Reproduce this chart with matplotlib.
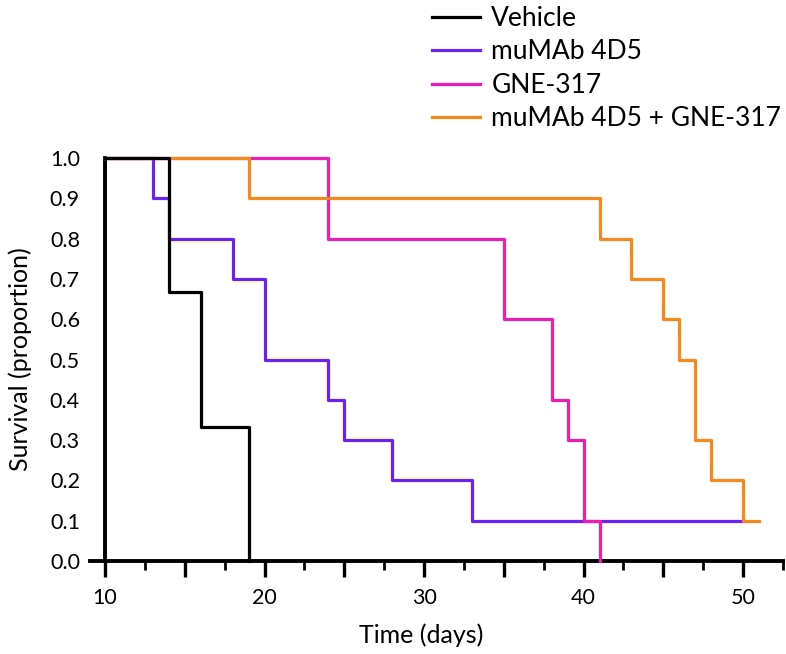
#Kaplan-Meier style survival plot
import numpy as np
import matplotlib
matplotlib.use("Agg")
import matplotlib.pyplot as plt
from matplotlib.ticker import MultipleLocator, FuncFormatter

#Data
groups = ["Vehicle", "muMAb 4D5", "GNE-317", "muMAb 4D5 + GNE-317"]

vehicle_days = [10, 14, 16, 19]
vehicle_surv = [1.0, 0.667, 0.333, 0.0]

mumab_days = [10, 13, 14, 18, 20, 24, 25, 28, 33, 50]
mumab_surv = [1.0, 0.9, 0.8, 0.7, 0.5, 0.4, 0.3, 0.2, 0.1, 0.1]

gne_days = [10, 24, 35, 38, 39, 40, 41]
gne_surv = [1.0, 0.8, 0.6, 0.4, 0.3, 0.1, 0.0]

combo_days = [10, 19, 41, 43, 45, 46, 47, 48, 50, 51]
combo_surv = [1.0, 0.9, 0.8, 0.7, 0.6, 0.5, 0.3, 0.2, 0.1, 0.1]

y_ticks = np.arange(0, 11) / 10

if __name__ == "__main__":
    plt.rcParams['font.family'] = ['Lato', 'DejaVu Sans']

    fig = plt.figure(figsize=(7.86, 6.54), dpi=100)
    ax = fig.add_axes([90 / 786, 1 - 561 / 654, 693 / 786, 403 / 654])

    lw = 2.3
    #zorder picked so black sits on top, purple at the bottom
    ax.step(vehicle_days, vehicle_surv, where='post', color='black', lw=lw, zorder=6, clip_on=False, label=groups[0])
    ax.step(mumab_days, mumab_surv, where='post', color='#6a22ec', lw=lw, zorder=3, clip_on=False, label=groups[1])
    ax.step(gne_days, gne_surv, where='post', color='#ec1cb6', lw=lw, zorder=4, clip_on=False, label=groups[2])
    ax.step(combo_days, combo_surv, where='post', color='#f28a1e', lw=lw, zorder=5, clip_on=False, label=groups[3])

    ax.set_xlim(9.06, 52.5)
    ax.set_ylim(0, 1.0)

    #Axis lines
    for side in ['top', 'right']:
        ax.spines[side].set_visible(False)
    ax.spines['left'].set_position(('data', 10))
    ax.spines['left'].set_linewidth(2.8)
    ax.spines['bottom'].set_linewidth(2.8)

    #X ticks: long every 5, short in between, labels every 10
    ax.xaxis.set_major_locator(MultipleLocator(5))
    ax.xaxis.set_minor_locator(MultipleLocator(2.5))
    ax.xaxis.set_major_formatter(FuncFormatter(lambda v, p: "%d" % v if v % 10 == 0 else ""))
    ax.tick_params(axis='x', which='major', length=11.5, width=2.4, labelsize=15.5, pad=8)
    ax.tick_params(axis='x', which='minor', length=6.5, width=2.0)

    #Y ticks: labels only, no marks
    ax.set_yticks(y_ticks)
    ax.set_yticklabels(["%.1f" % v for v in y_ticks])
    ax.tick_params(axis='y', length=0, labelsize=15.5, pad=18)

    ax.set_xlabel("Time (days)", fontsize=18)
    ax.xaxis.set_label_coords(0.478, -0.156)
    ax.set_ylabel("Survival (proportion)", fontsize=18)
    ax.yaxis.set_label_coords(-0.084, 0.5)

    fig.legend(loc='upper left', bbox_to_anchor=(432 / 786, 1 - 6 / 654), frameon=False,
               fontsize=19, handlelength=1.8, handletextpad=0.45, labelspacing=0.32, borderpad=0,
               borderaxespad=0)

    fig.savefig("out.png", dpi=100)
